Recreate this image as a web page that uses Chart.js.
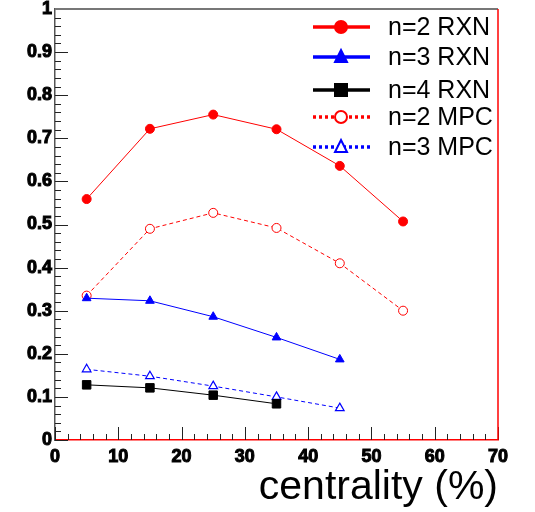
<!DOCTYPE html>
<html>
<head>
<meta charset="utf-8">
<script src="https://cdn.jsdelivr.net/npm/chart.js@4.4.1/dist/chart.umd.min.js"></script>
<style>
  html, body { margin: 0; padding: 0; background: #fff; }
  #wrap { width: 535px; height: 512px; }
</style>
</head>
<body>
<div id="wrap"><canvas id="c"></canvas></div>
<script>
// centrality bins (%)
const centrality = [5, 15, 25, 35, 45, 55];

// v_n values
const v2RXN = [0.559, 0.722, 0.755, 0.721, 0.636, 0.507];
const v3RXN = [0.329, 0.323, 0.286, 0.238, 0.187];
const v4RXN = [0.128, 0.121, 0.104, 0.084];
const v2MPC = [0.335, 0.490, 0.527, 0.492, 0.410, 0.300];
const v3MPC = [0.164, 0.148, 0.125, 0.100, 0.074];

const seriesNames = ['n=2 RXN', 'n=3 RXN', 'n=4 RXN', 'n=2 MPC', 'n=3 MPC'];

function pts(vals) {
  return vals.map(function(v, i) { return { x: centrality[i], y: v } })
}

const RED = '#ff0000';
const BLUE = '#0000ff';
const FONT = '"Liberation Sans", Arial, sans-serif';

// inward ROOT-style ticks, top/right frame, and the legend
const frameAndLegend = {
  id: 'frameAndLegend',
  afterDraw(chart) {
    const ctx = chart.ctx;
    const a = chart.chartArea;
    const xs = chart.scales.x, ys = chart.scales.y;
    ctx.save();
    ctx.strokeStyle = '#222';
    ctx.lineWidth = 1;
    // y ticks
    for (let i = 0; i <= 50; i++) {
      const v = i * 0.02;
      const py = Math.round(ys.getPixelForValue(v)) + 0.5;
      const len = (i % 5 === 0) ? 13 : 6;
      ctx.beginPath();
      ctx.moveTo(a.left, py);
      ctx.lineTo(a.left + len, py);
      ctx.stroke();
    }
    // x ticks
    for (let i = 0; i <= 35; i++) {
      const v = i * 2;
      const px = Math.round(xs.getPixelForValue(v)) + 0.5;
      const len = (i % 5 === 0) ? 13 : 6;
      ctx.beginPath();
      ctx.moveTo(px, a.bottom);
      ctx.lineTo(px, a.bottom - len);
      ctx.stroke();
    }
    // frame
    ctx.strokeStyle = '#777';
    ctx.lineWidth = 2;
    ctx.beginPath();
    ctx.moveTo(a.left, a.top);
    ctx.lineTo(a.right, a.top);
    ctx.stroke();
    ctx.strokeStyle = RED;
    ctx.lineWidth = 1.5;
    ctx.beginPath();
    ctx.moveTo(a.right, a.top);
    ctx.lineTo(a.right, a.bottom);
    ctx.stroke();

    // legend
    const rowY = [27, 57, 90, 117, 147];
    chart.data.datasets.forEach(function(ds, i) {
      const y = rowY[i];
      ctx.save();
      ctx.strokeStyle = ds.borderColor;
      ctx.lineWidth = 3.5;
      ctx.setLineDash(ds.borderDash && ds.borderDash.length ? [3, 3] : []);
      ctx.beginPath();
      ctx.moveTo(313, y);
      ctx.lineTo(370, y);
      ctx.stroke();
      ctx.restore();
      ctx.save();
      ctx.fillStyle = ds.pointBackgroundColor;
      ctx.strokeStyle = ds.pointBorderColor;
      ctx.lineWidth = 2;
      ctx.beginPath();
      if (ds.pointStyle === 'circle') {
        ctx.arc(341, y, 6, 0, Math.PI * 2);
      } else if (ds.pointStyle === 'triangle') {
        ctx.moveTo(341, y - 7);
        ctx.lineTo(347, y + 5);
        ctx.lineTo(335, y + 5);
        ctx.closePath();
      } else {
        ctx.rect(335, y - 6, 12, 12);
      }
      ctx.fill();
      ctx.stroke();
      ctx.restore();
      ctx.fillStyle = '#000';
      ctx.font = '25px ' + FONT;
      ctx.textBaseline = 'middle';
      ctx.fillText(ds.label, 388, y + 1);
    });
    ctx.restore();
  }
};

const datasets = [
  { label: seriesNames[0], data: pts(v2RXN), borderColor: RED, borderWidth: 1,
    pointStyle: 'circle', pointRadius: 4.5, pointBackgroundColor: RED, pointBorderColor: RED },
  { label: seriesNames[1], data: pts(v3RXN), borderColor: BLUE, borderWidth: 1,
    pointStyle: 'triangle', pointRadius: 5, pointBackgroundColor: BLUE, pointBorderColor: BLUE },
  { label: seriesNames[2], data: pts(v4RXN), borderColor: '#000', borderWidth: 1,
    pointStyle: 'rect', pointRadius: 6, pointBackgroundColor: '#000', pointBorderColor: '#000' },
  { label: seriesNames[3], data: pts(v2MPC), borderColor: RED, borderWidth: 1, borderDash: [4, 3],
    pointStyle: 'circle', pointRadius: 4.5, pointBackgroundColor: '#fff', pointBorderColor: RED, pointBorderWidth: 1 },
  { label: seriesNames[4], data: pts(v3MPC), borderColor: BLUE, borderWidth: 1, borderDash: [4, 3],
    pointStyle: 'triangle', pointRadius: 5, pointBackgroundColor: '#fff', pointBorderColor: BLUE, pointBorderWidth: 1.2 }
];

new Chart(document.getElementById('c'), {
  type: 'line',
  data: { datasets: datasets },
  options: {
    responsive: true,
    maintainAspectRatio: false,
    animation: false,
    layout: { padding: { top: 9, right: 37, left: 0, bottom: 0 } },
    plugins: { legend: { display: false }, tooltip: { enabled: false } },
    elements: { line: { tension: 0 } },
    scales: {
      x: {
        type: 'linear', min: 0, max: 70,
        ticks: { stepSize: 10, color: '#000', padding: 6,
          textStrokeColor: '#000', textStrokeWidth: 1,
          font: { family: FONT, size: 18, weight: 'bold' } },
        grid: { display: false, drawTicks: false },
        border: { color: RED, width: 1.5 },
        title: { display: true, text: 'centrality (%)', align: 'end', color: '#000',
          font: { family: FONT, size: 41 }, padding: { top: 0, bottom: 0 } },
        afterFit(scale) {
          scale.height = 72;
          scale.paddingLeft = 0; scale.paddingRight = 0;
        }
      },
      y: {
        min: 0, max: 1,
        ticks: { stepSize: 0.1, color: '#000', padding: 3,
          textStrokeColor: '#000', textStrokeWidth: 1,
          font: { family: FONT, size: 18, weight: 'bold' },
          callback: function(v) { return String(Math.round(v * 10) / 10); } },
        grid: { display: false, drawTicks: false },
        border: { color: '#555', width: 1.5 },
        afterFit(scale) {
          scale.width = 55;
          scale.paddingTop = 0; scale.paddingBottom = 0;
        }
      }
    }
  },
  plugins: [frameAndLegend]
});
</script>
</body>
</html>
